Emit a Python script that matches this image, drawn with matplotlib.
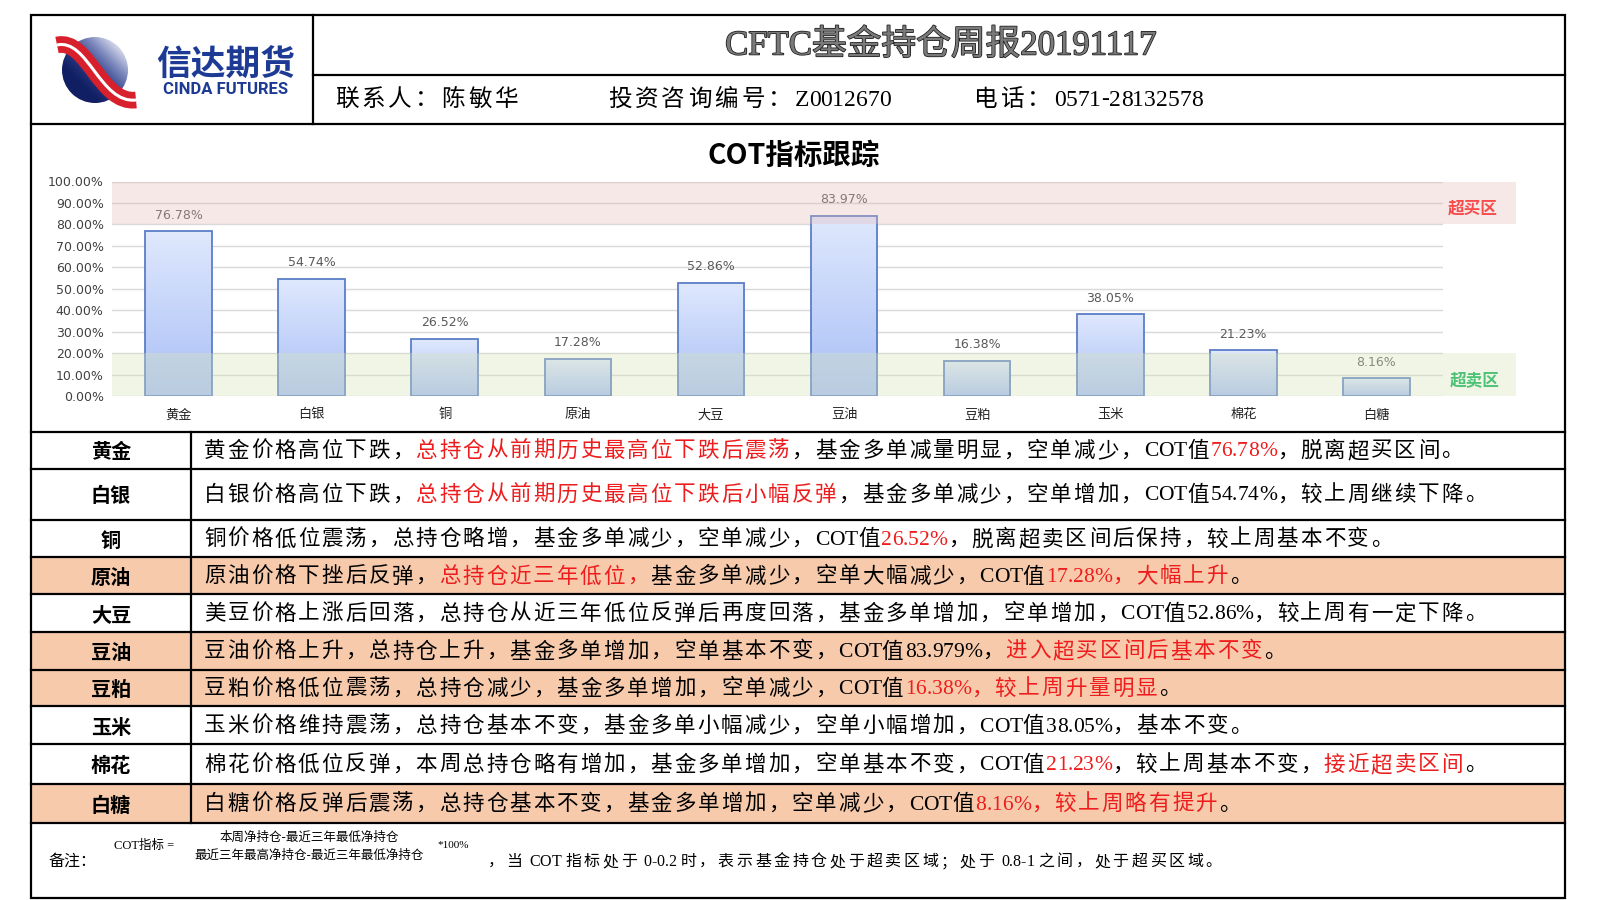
import numpy as np
import matplotlib
matplotlib.use('Agg')
import matplotlib.pyplot as plt
from matplotlib.patches import Rectangle, Circle, PathPatch
from matplotlib.path import Path
from matplotlib.colors import LinearSegmentedColormap
import matplotlib.patheffects as pe

plt.rcParams['font.family'] = ['Noto Sans CJK SC', 'DejaVu Sans']
SERIF = ['Liberation Serif', 'Noto Sans CJK SC']
SANS = ['Noto Sans CJK SC', 'DejaVu Sans']

# ---- data ----
report_title = 'CFTC基金持仓周报20191117'
contact = '联系人：陈敏华'
license_no = '投资咨询编号：Z0012670'
phone = '电话：0571-28132578'
chart_title = 'COT指标跟踪'

categories = ['黄金', '白银', '铜', '原油', '大豆', '豆油', '豆粕', '玉米', '棉花', '白糖']
cot_values = [76.78, 54.74, 26.52, 17.28, 52.86, 83.97, 16.38, 38.05, 21.23, 8.16]
y_ticks = [0, 10, 20, 30, 40, 50, 60, 70, 80, 90, 100]
overbought = (80, 100)
oversold = (0, 20)

highlight_rows = ['原油', '豆油', '豆粕', '白糖']
# each comment: list of (text, red?)
comments = [
    [('黄金价格高位下跌，', 0), ('总持仓从前期历史最高位下跌后震荡', 1),
     ('，基金多单减量明显，空单减少，COT值', 0), ('76.78%', 1), ('，脱离超买区间。', 0)],
    [('白银价格高位下跌，', 0), ('总持仓从前期历史最高位下跌后小幅反弹', 1),
     ('，基金多单减少，空单增加，COT值54.74%，较上周继续下降。', 0)],
    [('铜价格低位震荡，总持仓略增，基金多单减少，空单减少，COT值', 0), ('26.52%', 1),
     ('，脱离超卖区间后保持，较上周基本不变。', 0)],
    [('原油价格下挫后反弹，', 0), ('总持仓近三年低位，', 1),
     ('基金多单减少，空单大幅减少，COT值', 0), ('17.28%，大幅上升', 1), ('。', 0)],
    [('美豆价格上涨后回落，总持仓从近三年低位反弹后再度回落，基金多单增加，空单增加，COT值52.86%，较上周有一定下降。', 0)],
    [('豆油价格上升，总持仓上升，基金多单增加，空单基本不变，COT值83.979%，', 0),
     ('进入超买区间后基本不变', 1), ('。', 0)],
    [('豆粕价格低位震荡，总持仓减少，基金多单增加，空单减少，COT值', 0),
     ('16.38%，较上周升量明显', 1), ('。', 0)],
    [('玉米价格维持震荡，总持仓基本不变，基金多单小幅减少，空单小幅增加，COT值38.05%，基本不变。', 0)],
    [('棉花价格低位反弹，本周总持仓略有增加，基金多单增加，空单基本不变，COT值', 0),
     ('21.23%', 1), ('，较上周基本不变，', 0), ('接近超卖区间', 1), ('。', 0)],
    [('白糖价格反弹后震荡，总持仓基本不变，基金多单增加，空单减少，COT值', 0),
     ('8.16%，较上周略有提升', 1), ('。', 0)],
]

formula_left = 'COT指标 ='
formula_num = '本周净持仓-最近三年最低净持仓'
formula_den = '最近三年最高净持仓-最近三年最低净持仓'
formula_right = '*100%'
note_label = '备注：'
note_text = '，当 COT 指标处于 0-0.2 时，表示基金持仓处于超卖区域；处于 0.8-1 之间，处于超买区域。'

# ---- figure / background canvas in pixel units ----
fig = plt.figure(figsize=(16, 9), dpi=100)
bg = fig.add_axes([0, 0, 1, 1])
bg.set_xlim(0, 1600)
bg.set_ylim(900, 0)
bg.axis('off')
renderer = fig.canvas.get_renderer()


def spaced_text(x, y, s, size, color='black', gap=2.0, family=SERIF):
    # song-style body text: CJK glyphs get a little extra tracking
    for ch in s:
        t = bg.text(x, y, ch, family=family, fontsize=size, color=color, ha='left', va='center')
        x += t.get_window_extent(renderer=renderer).width
        if ord(ch) > 0x2000:
            x += gap
    return x


L, R, T, B = 31, 1565, 15, 898
col_x = 191
row_edges = [431.5, 468.5, 519.5, 557, 594, 631.5, 669.5, 706, 744, 783.5, 822.5]

# row fills
for i, name in enumerate(categories):
    if name in highlight_rows:
        bg.add_patch(Rectangle((L, row_edges[i]), R - L, row_edges[i + 1] - row_edges[i],
                               facecolor='#f7caac', edgecolor='none', zorder=0))

lw = 1.6
bg.add_patch(Rectangle((L, T), R - L, B - T, fill=False, edgecolor='black', lw=lw))
bg.plot([313, 313], [T, 123.5], color='black', lw=lw)
bg.plot([313, R], [74.5, 74.5], color='black', lw=lw)
bg.plot([L, R], [123.5, 123.5], color='black', lw=lw)
for y in row_edges:
    bg.plot([L, R], [y, y], color='black', lw=lw)
bg.plot([col_x, col_x], [row_edges[0], row_edges[-1]], color='black', lw=lw)

# ---- logo ----
cx, cy, r = 95, 70, 33
logo_cmap = LinearSegmentedColormap.from_list('logo', ['#111f63', '#2c3d86', '#7d89bd', '#e6e8f3'])
gx, gy = np.meshgrid(np.linspace(-1, 1, 200), np.linspace(-1, 1, 200))
grad = np.clip((gx - gy) / 2.4 + 0.35, 0, 1)
circ = Circle((cx, cy), r, facecolor='none', edgecolor='none')
bg.add_patch(circ)
im = bg.imshow(grad, extent=[cx - r, cx + r, cy + r, cy - r], origin='upper', cmap=logo_cmap,
               vmin=0, vmax=1, zorder=1)
im.set_clip_path(circ)
swoosh = Path([(57, 45), (88, 38), (100, 104), (136, 100)],
              [Path.MOVETO, Path.CURVE4, Path.CURVE4, Path.CURVE4])
bg.add_patch(PathPatch(swoosh, facecolor='none', edgecolor='#d7202b', lw=12, capstyle='butt', zorder=2))
bg.add_patch(PathPatch(swoosh, facecolor='none', edgecolor='white', lw=2.2, capstyle='butt', zorder=3))
bg.set_xlim(0, 1600)
bg.set_ylim(900, 0)
bg.set_aspect('auto')
bg.text(226, 64, '信达期货', family=SANS, fontsize=25, fontweight='bold', color='#1d3b94',
        ha='center', va='center')
bg.text(226, 89, 'CINDA FUTURES', family=['Roboto', 'DejaVu Sans'], fontsize=12, fontweight='bold',
        color='#1d3b94', ha='center', va='center')

# ---- header text ----
bg.text(941, 46, report_title, family=SERIF, fontsize=25, color='#7a7a7a',
        ha='center', va='center',
        path_effects=[pe.withStroke(linewidth=1.1, foreground='#1a1a1a')])
spaced_text(335, 100, contact, 17, gap=3)
spaced_text(608, 100, license_no, 17, gap=3)
spaced_text(974, 100, phone, 17, gap=3)

# ---- chart ----
bg.text(794, 156, chart_title, family=SANS, fontsize=20.5, fontweight='bold', ha='center', va='center')

ax = fig.add_axes([112 / 1600, 1 - 396 / 900, (1443 - 112) / 1600, (396 - 181.5) / 900])
ax.set_facecolor('none')
x = np.arange(len(categories))
bars = ax.bar(x, cot_values, width=0.5, facecolor='none', edgecolor='#5a7ec6', lw=1.3, zorder=2)
bar_cmap = LinearSegmentedColormap.from_list('bar', ['#a9bff6', '#dfe8fd'])
vgrad = np.linspace(0, 1, 100).reshape(-1, 1)
for b in bars:
    bim = ax.imshow(vgrad, extent=[b.get_x(), b.get_x() + b.get_width(), 0, b.get_height()],
                    origin='lower', cmap=bar_cmap, aspect='auto', zorder=1.9)
    bim.set_clip_path(b)
    ax.annotate(f'{b.get_height():.2f}%', (b.get_x() + b.get_width() / 2, b.get_height()),
                xytext=(0, 7), textcoords='offset points', ha='center', va='bottom',
                fontsize=9, color='#595959', family=['DejaVu Sans'])
ax.axhspan(*overbought, xmin=0, xmax=1.055, facecolor='#e6b8b7', alpha=0.32, edgecolor='none',
           zorder=3, clip_on=False)
ax.axhspan(*oversold, xmin=0, xmax=1.055, facecolor='#d8e4bc', alpha=0.36, edgecolor='none',
           zorder=3, clip_on=False)
ax.set_xlim(-0.5, len(categories) - 0.5)
ax.set_ylim(0, 100)
ax.set_yticks(y_ticks)
ax.set_yticklabels([f'{t:.2f}%' for t in y_ticks], fontsize=9, color='#404040', family=['DejaVu Sans'])
ax.set_xticks(x)
ax.set_xticklabels(categories, fontsize=9.5, color='#222222')
ax.tick_params(axis='y', length=0, pad=6)
ax.tick_params(axis='x', length=0, pad=9)
ax.yaxis.grid(True, color='#d9d9d9', lw=1, zorder=0.5)
ax.set_axisbelow(True)
for s in ax.spines.values():
    s.set_visible(False)

bg.text(1473, 209, '超买区', family=SANS, fontsize=12, fontweight='bold', color='#ff1a1a',
        ha='center', va='center')
bg.text(1475, 380, '超卖区', family=SANS, fontsize=12, fontweight='bold', color='#00b050',
        ha='center', va='center')

# ---- table ----
for i, name in enumerate(categories):
    yc = (row_edges[i] + row_edges[i + 1]) / 2 + 2
    bg.text(111, yc, name, family=SANS, fontsize=14.5, fontweight='bold', ha='center', va='center')
    xpos = 204
    for seg, red in comments[i]:
        xpos = spaced_text(xpos, yc, seg, 15.5, color='#ee1c1c' if red else 'black', gap=2.0)

# ---- footnote ----
bg.text(48, 862, note_label, family=SERIF, fontsize=11.5, ha='left', va='center')
bg.text(114, 846, formula_left, family=SERIF, fontsize=9, ha='left', va='center')
bg.text(309, 837, formula_num, family=SANS, fontsize=9, ha='center', va='center')
bg.text(309, 855, formula_den, family=SANS, fontsize=9, ha='center', va='center')
bg.text(437, 846, formula_right, family=SERIF, fontsize=8, ha='left', va='center')
spaced_text(488, 862, note_text, 11.5, gap=2.6)

fig.savefig('out.png', dpi=100)
